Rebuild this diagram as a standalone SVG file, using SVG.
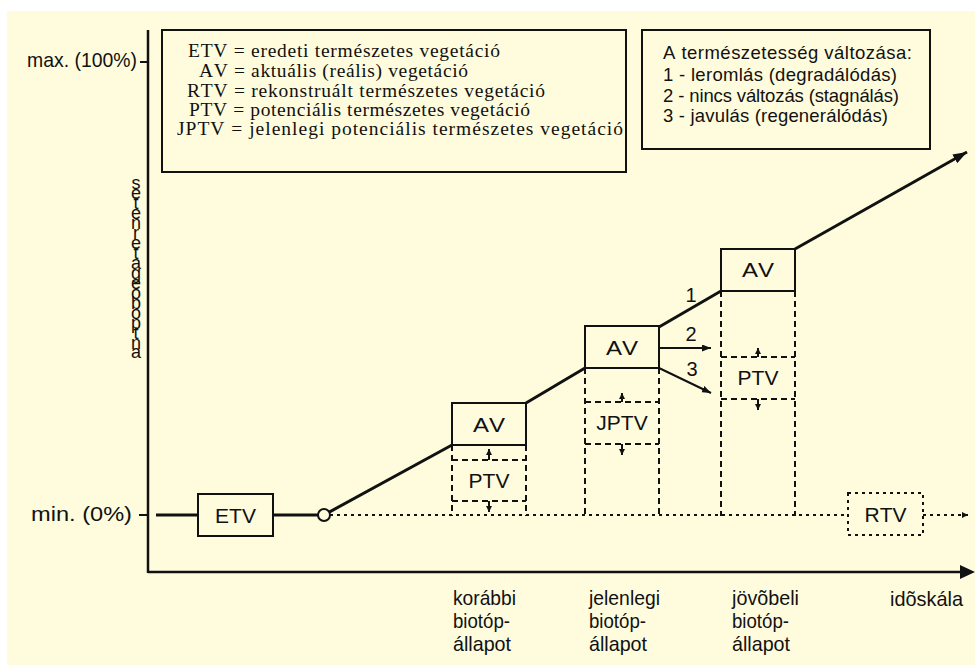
<svg xmlns="http://www.w3.org/2000/svg" width="975" height="665" viewBox="0 0 975 665">
<style>
.ax{stroke:#111;stroke-width:2.5;fill:none}
.tr{stroke:#111;stroke-width:3;fill:none}
.th{stroke:#111;stroke-width:2;fill:none}
.bx{stroke:#111;stroke-width:2;fill:none}
.ds{stroke:#111;stroke-width:2;stroke-dasharray:6 4;fill:none}
.dt{stroke:#111;stroke-width:2;stroke-dasharray:3 4;fill:none}
text{font-family:"Liberation Sans",Arial,sans-serif;fill:#111;font-kerning:none}
.lbl{font-size:21px;text-anchor:middle}
.serif{font-family:"Liberation Serif","Times New Roman",serif;font-size:19.5px}
.leg{font-size:18.5px}
.tick{font-size:21px}
.xl{font-size:21px}
.num{font-size:20px;text-anchor:middle}
.vt{font-size:18px;text-anchor:middle}
</style>
<defs>
<marker id="ahBig" viewBox="0 0 14 10" refX="14" refY="5" markerWidth="14" markerHeight="10" markerUnits="userSpaceOnUse" orient="auto"><path d="M0,0 L14,5 L0,10 z" fill="#111"/></marker>
<marker id="ahSm" viewBox="0 0 9 7" refX="9" refY="3.5" markerWidth="9" markerHeight="7" markerUnits="userSpaceOnUse" orient="auto"><path d="M0,0 L9,3.5 L0,7 z" fill="#111"/></marker>
<marker id="ahTiny" viewBox="0 0 6 6" refX="6" refY="3" markerWidth="6" markerHeight="6" markerUnits="userSpaceOnUse" orient="auto"><path d="M0,0 L6,3 L0,6 z" fill="#111"/></marker>
</defs>
<rect x="0" y="0" width="975" height="665" fill="#ffffff"/>
<rect x="7" y="11" width="968" height="654" fill="#fffcde"/>

<g id="axes">
<line class="ax" x1="148" y1="30" x2="148" y2="573"/>
<line class="ax" x1="148" y1="572" x2="962" y2="572"/>
<polygon points="960,565 975,572 960,579" fill="#111"/>
<line class="th" x1="140" y1="62" x2="148" y2="62"/>
<line class="th" x1="139" y1="515" x2="148" y2="515"/>
<text class="tick" x="27" y="67" textLength="110" lengthAdjust="spacingAndGlyphs">max. (100%)</text>
<text class="tick" x="31" y="521" textLength="101" lengthAdjust="spacingAndGlyphs">min. (0%)</text>
<text class="vt" x="136 136 136 136 136 136 136 136 136 136 136 136 136 136 136 136 136 136" y="189 199 209 219 229 239 249 259 269 279 289 299 309 319 329 339 349 358">setenretageoboptna</text>
<text class="xl" x="890" y="606" textLength="73" lengthAdjust="spacingAndGlyphs">idõskála</text>
</g>

<g id="legend">
<rect class="bx" x="162" y="30" width="464" height="142"/>
<text class="serif" x="188" y="57" textLength="312" lengthAdjust="spacing">ETV = eredeti természetes vegetáció</text>
<text class="serif" x="199" y="77" textLength="269" lengthAdjust="spacing">AV = aktuális (reális) vegetáció</text>
<text class="serif" x="187" y="96.5" textLength="358" lengthAdjust="spacing">RTV = rekonstruált természetes vegetáció</text>
<text class="serif" x="189" y="116" textLength="341" lengthAdjust="spacing">PTV = potenciális természetes vegetáció</text>
<text class="serif" x="177" y="135" textLength="446" lengthAdjust="spacing">JPTV = jelenlegi potenciális természetes vegetáció</text>
</g>

<g id="legend-change">
<rect class="bx" x="642" y="30" width="288" height="119"/>
<text class="leg" x="663" y="59" textLength="249" lengthAdjust="spacing">A természetesség változása:</text>
<text class="leg" x="663" y="81" textLength="234" lengthAdjust="spacing">1 - leromlás (degradálódás)</text>
<text class="leg" x="663" y="102" textLength="236" lengthAdjust="spacing">2 - nincs változás (stagnálás)</text>
<text class="leg" x="663" y="122" textLength="225" lengthAdjust="spacing">3 - javulás (regenerálódás)</text>
</g>

<g id="connectors">
<line class="tr" x1="156" y1="515" x2="198" y2="515"/>
<line class="tr" x1="273" y1="515" x2="318" y2="515"/>
<line class="tr" x1="329.2" y1="512.1" x2="452" y2="445"/>
<line class="tr" x1="526" y1="403" x2="585" y2="368"/>
<line class="tr" x1="659" y1="327" x2="721" y2="291"/>
<line class="tr" x1="795" y1="249" x2="967" y2="152" marker-end="url(#ahBig)"/>
<line class="th" x1="659" y1="348" x2="711" y2="348" marker-end="url(#ahSm)"/>
<line class="th" x1="659" y1="368" x2="711" y2="393" marker-end="url(#ahSm)"/>
<line class="dt" x1="330" y1="515" x2="848" y2="515"/>
<line class="dt" x1="923" y1="515" x2="968" y2="515" marker-end="url(#ahTiny)"/>
<line class="th" x1="489" y1="460" x2="489" y2="449" stroke-width="1.5" marker-end="url(#ahTiny)"/>
<line class="th" x1="489" y1="501" x2="489" y2="512" stroke-width="1.5" marker-end="url(#ahTiny)"/>
<line class="th" x1="622" y1="402" x2="622" y2="393" stroke-width="1.5" marker-end="url(#ahTiny)"/>
<line class="th" x1="622" y1="444" x2="622" y2="455" stroke-width="1.5" marker-end="url(#ahTiny)"/>
<line class="th" x1="758" y1="357" x2="758" y2="348" stroke-width="1.5" marker-end="url(#ahTiny)"/>
<line class="th" x1="758" y1="399" x2="758" y2="410" stroke-width="1.5" marker-end="url(#ahTiny)"/>
<text class="num" x="691" y="302">1</text>
<text class="num" x="691" y="341">2</text>
<text class="num" x="692" y="376">3</text>
</g>

<g id="etv">
<rect class="bx" x="198" y="494" width="75" height="42" fill="#fffcde"/>
<text class="lbl" x="235.5" y="522.5">ETV</text>
</g>

<g id="start">
<circle cx="324" cy="515" r="6" fill="#fffcde" stroke="#111" stroke-width="2"/>
</g>

<g id="av1">
<rect class="bx" x="452" y="403" width="74" height="42"/>
<line class="ds" x1="452" y1="445" x2="452" y2="516"/>
<line class="ds" x1="526" y1="445" x2="526" y2="516"/>
<text class="lbl" x="489" y="431.5" textLength="32" lengthAdjust="spacingAndGlyphs">AV</text>
</g>
<g id="ptv1">
<line class="ds" x1="452" y1="460" x2="526" y2="460"/>
<line class="ds" x1="452" y1="501" x2="526" y2="501"/>
<text class="lbl" x="489" y="488">PTV</text>
</g>

<g id="av2">
<rect class="bx" x="585" y="326" width="74" height="42"/>
<line class="ds" x1="585" y1="368" x2="585" y2="516"/>
<line class="ds" x1="659" y1="368" x2="659" y2="516"/>
<text class="lbl" x="622" y="355" textLength="32" lengthAdjust="spacingAndGlyphs">AV</text>
</g>
<g id="jptv">
<line class="ds" x1="585" y1="402" x2="659" y2="402"/>
<line class="ds" x1="585" y1="444" x2="659" y2="444"/>
<text class="lbl" x="622" y="430">JPTV</text>
</g>

<g id="av3">
<rect class="bx" x="721" y="249" width="74" height="42"/>
<line class="ds" x1="721" y1="291" x2="721" y2="516"/>
<line class="ds" x1="795" y1="291" x2="795" y2="516"/>
<text class="lbl" x="758" y="277" textLength="32" lengthAdjust="spacingAndGlyphs">AV</text>
</g>
<g id="ptv3">
<line class="ds" x1="721" y1="357" x2="795" y2="357"/>
<line class="ds" x1="721" y1="399" x2="795" y2="399"/>
<text class="lbl" x="758" y="385">PTV</text>
</g>

<g id="rtv">
<rect class="dt" x="848" y="493" width="75" height="42"/>
<text class="lbl" x="885.5" y="521.5">RTV</text>
</g>

<g id="time-labels">
<text class="xl" x="453" y="605" textLength="63" lengthAdjust="spacingAndGlyphs">korábbi</text>
<text class="xl" x="453" y="628" textLength="57" lengthAdjust="spacingAndGlyphs">biotóp-</text>
<text class="xl" x="453" y="651" textLength="58" lengthAdjust="spacingAndGlyphs">állapot</text>
<text class="xl" x="589" y="605" textLength="71" lengthAdjust="spacingAndGlyphs">jelenlegi</text>
<text class="xl" x="589" y="628" textLength="57" lengthAdjust="spacingAndGlyphs">biotóp-</text>
<text class="xl" x="589" y="651" textLength="58" lengthAdjust="spacingAndGlyphs">állapot</text>
<text class="xl" x="732" y="605" textLength="67" lengthAdjust="spacingAndGlyphs">jövõbeli</text>
<text class="xl" x="732" y="628" textLength="57" lengthAdjust="spacingAndGlyphs">biotóp-</text>
<text class="xl" x="732" y="651" textLength="58" lengthAdjust="spacingAndGlyphs">állapot</text>
</g>
</svg>
